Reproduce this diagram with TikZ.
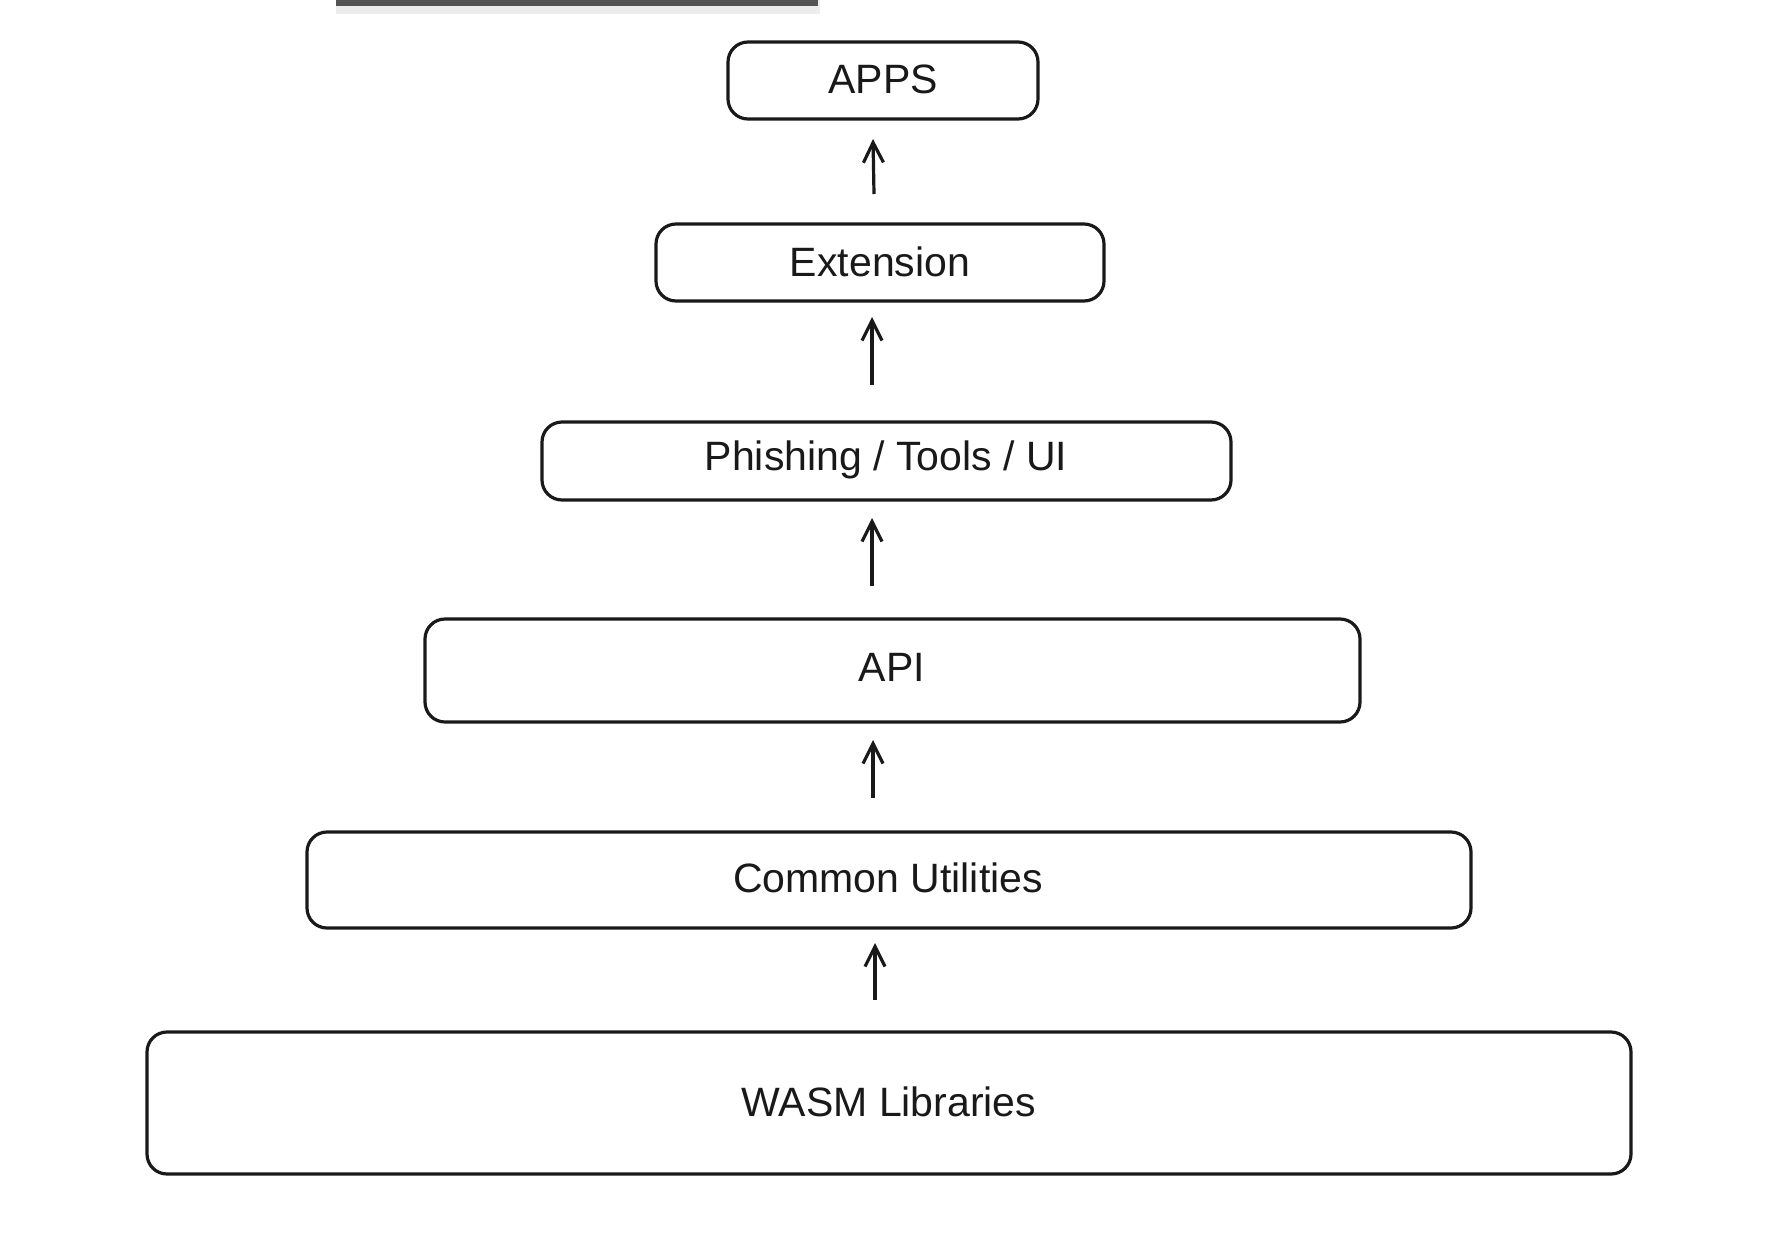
\documentclass[tikz,border=0pt]{standalone}
\usepackage{fontspec}
\setmainfont{Liberation Sans}
\usetikzlibrary{arrows.meta}
\begin{document}
\begin{tikzpicture}[x=1pt,y=-1pt,
  layer/.style={draw=black!90, line width=3.2pt, rounded corners=20pt, fill=white},
  lbl/.style={font=\fontsize{41}{48}\selectfont, text=black!90},
  up/.style={draw=black!90, line width=3.2pt, -{Straight Barb[length=20pt,width=20pt,line width=3.2pt]}}]
\useasboundingbox (0,0) rectangle (1782,1242);
\fill[black!7] (336,0) rectangle (820,14);
\fill[black!67] (336,0) rectangle (818,6);
\draw[layer] (728,42) rectangle (1038,119);
\node[lbl] (apps) at (883,79) {APPS};
\draw[layer] (656,224) rectangle (1104,301);
\node[lbl] (ext) at (880,262) {Extension};
\draw[layer] (542,422) rectangle (1231,500);
\node[lbl] (phish) at (886,460) {Phishing / Tools / UI};
\draw[layer] (425,619) rectangle (1360,722);
\node[lbl] (api) at (892,667) {API};
\draw[layer] (307,832) rectangle (1471,928);
\node[lbl] (common) at (888,878) {Common Utilities};
\draw[layer] (147,1032) rectangle (1631,1174);
\node[lbl] (wasm) at (889,1102) {WASM Libraries};
\coordinate (a1s) at (874,194); \coordinate (a1e) at (873,139);
\coordinate (a2s) at (872,385); \coordinate (a2e) at (872,317);
\coordinate (a3s) at (872,586); \coordinate (a3e) at (872,518);
\coordinate (a4s) at (873,798); \coordinate (a4e) at (873,740);
\coordinate (a5s) at (875,1000); \coordinate (a5e) at (875,943);
\draw[up] (a1s) -- (a1e);
\draw[up] (a2s) -- (a2e);
\draw[up] (a3s) -- (a3e);
\draw[up] (a4s) -- (a4e);
\draw[up] (a5s) -- (a5e);
\end{tikzpicture}
\end{document}
